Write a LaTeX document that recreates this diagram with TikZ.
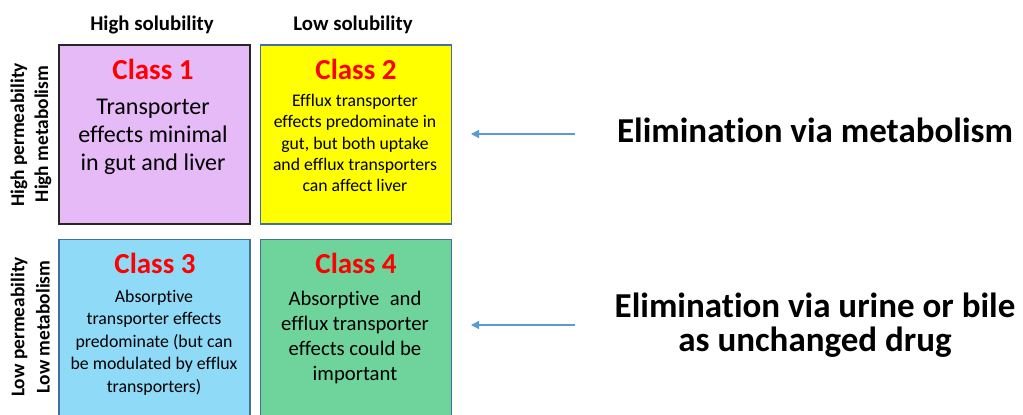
\documentclass[tikz,border=0pt]{standalone}
\usepackage{fontspec}
\setmainfont{Carlito}[Ligatures={NoCommon,NoContextual}]
\usetikzlibrary{arrows.meta}
\definecolor{cpurple}{HTML}{E6B9F7}
\definecolor{cyellow}{HTML}{FFFF00}
\definecolor{cblue}{HTML}{8FDAF7}
\definecolor{cgreen}{HTML}{6FD39C}
\definecolor{cborder}{HTML}{41719C}
\definecolor{carrow}{HTML}{5B9BD5}
\definecolor{cred}{HTML}{FF0000}
\tikzset{
  cell/.style={draw=cborder, line width=1.5pt, minimum width=191pt, minimum height=179pt, inner sep=0pt},
  hdr/.style={font=\fontsize{20.8}{24}\selectfont\bfseries, inner sep=0pt},
  side/.style={font=\fontsize{19.4}{23}\selectfont\bfseries, inner sep=0pt, rotate=90},
  title/.style={font=\fontsize{29}{32}\selectfont\bfseries, text=cred, inner sep=0pt},
  body/.style={align=center, inner sep=0pt},
  elim/.style={font=\fontsize{35}{34}\selectfont\bfseries, align=center, inner sep=0pt},
  conn/.style={draw=carrow, line width=1.3pt, -{Triangle[length=8pt,width=8pt]}}
}
\begin{document}
\begin{tikzpicture}[x=1pt,y=-1pt]
\useasboundingbox (0,0) rectangle (1023,415);
\begin{scope}
\clip (0,0) rectangle (1023,415);
\node[cell, fill=cpurple, draw=black!85] (b1) at (154.5,134.5) {};
\node[cell, fill=cyellow] (b2) at (356,134.5) {};
\node[cell, fill=cblue] (b3) at (154.5,329) {};
\node[cell, fill=cgreen] (b4) at (356,329) {};
\end{scope}
\node[hdr] (h1) at (152,25) {High solubility};
\node[hdr] (h2) at (353,25) {Low solubility};
\node[side] (s1) at (19,135) {High permeability};
\node[side] (s2) at (43,134) {High metabolism};
\node[side] (s3) at (19,327) {Low permeability};
\node[side] (s4) at (43,327) {Low metabolism};
\node[title] (t1) at (153,69) {Class 1};
\node[title] (t2) at (356,69) {Class 2};
\node[title] (t3) at (155,263) {Class 3};
\node[title] (t4) at (356,263) {Class 4};
\node[body, font=\fontsize{24}{28}\selectfont] (x1) at (153,137) {Transporter\\effects minimal\\in gut and liver};
\node[body, font=\fontsize{17.7}{21.3}\selectfont] (x2) at (355,143) {Efflux transporter\\effects predominate in\\gut, but both uptake\\and efflux transporters\\can affect liver};
\node[body, font=\fontsize{17.8}{22.5}\selectfont] (x3) at (154,342.5) {Absorptive\\transporter effects\\predominate (but can\\be modulated by efflux\\transporters)};
\node[body, font=\fontsize{20.7}{25}\selectfont] (x4) at (355,337.5) {Absorptive\enspace and\\efflux transporter\\effects could be\\important};
\node[elim] (e1) at (815,130) {Elimination via metabolism};
\node[elim] (e2) at (815,325) {Elimination via urine or bile\\as unchanged drug};
\coordinate (a1s) at (575,134);
\coordinate (a1e) at (471,134);
\coordinate (a2s) at (575,325);
\coordinate (a2e) at (471,325);
\draw[conn] (a1s) -- (a1e);
\draw[conn] (a2s) -- (a2e);
\end{tikzpicture}
\end{document}
